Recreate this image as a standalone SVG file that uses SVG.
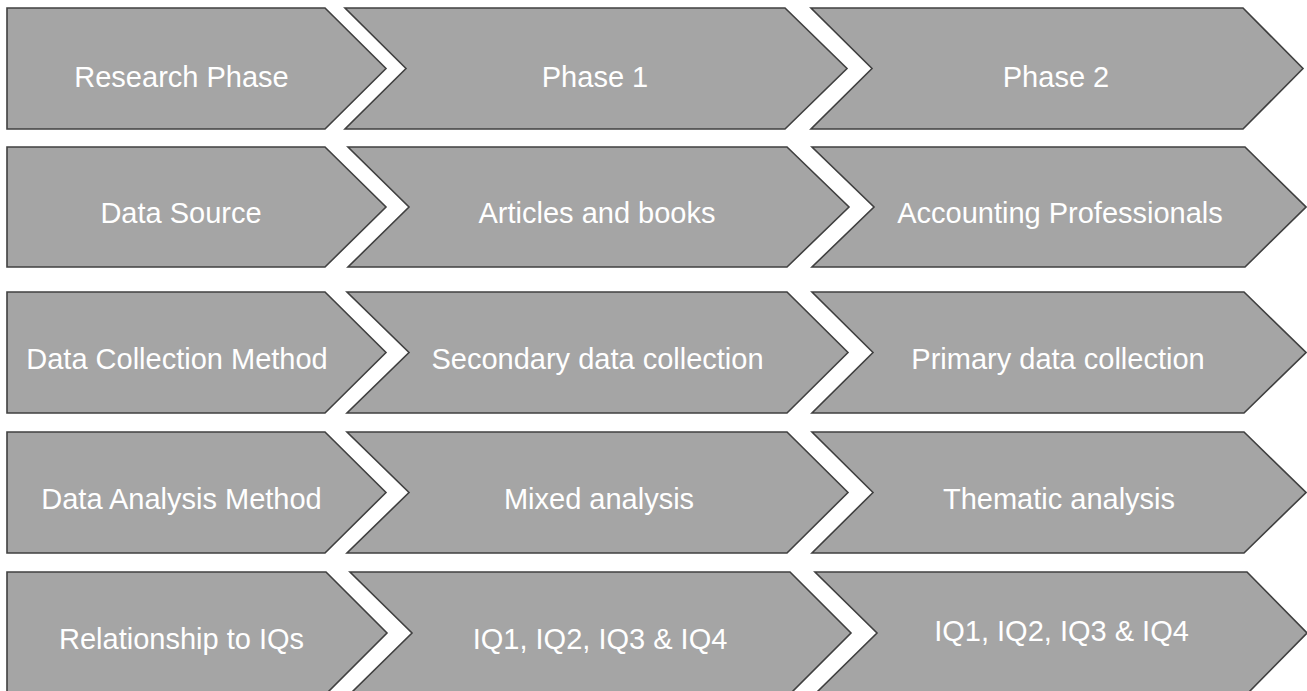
<svg xmlns="http://www.w3.org/2000/svg" width="1307" height="691" viewBox="0 0 1307 691">
<style>
.s{fill:#a5a5a5;stroke:#404040;stroke-width:1.6;stroke-linejoin:miter}
.t{fill:#ffffff;font-family:"Liberation Sans",Arial,sans-serif;font-size:29px;text-anchor:middle}
</style>
<rect x="0" y="0" width="1307" height="691" fill="#ffffff"/>
<g id="r1c1"><polygon class="s" points="7,8 325,8 386,68.5 325,129 7,129"/><text class="t" x="181.5" y="87">Research Phase</text></g>
<g id="r1c2"><polygon class="s" points="345,8 785,8 847,68.5 785,129 345,129 406,68.5"/><text class="t" x="595" y="87">Phase 1</text></g>
<g id="r1c3"><polygon class="s" points="811,8 1243,8 1303,68.5 1243,129 811,129 872,68.5"/><text class="t" x="1056" y="87">Phase 2</text></g>

<g id="r2c1"><polygon class="s" points="7,147 325,147 386,207 325,267 7,267"/><text class="t" x="181" y="223">Data Source</text></g>
<g id="r2c2"><polygon class="s" points="348,147 787,147 849,207 787,267 348,267 409,207"/><text class="t" x="597" y="223">Articles and books</text></g>
<g id="r2c3"><polygon class="s" points="812,147 1245,147 1306,207 1245,267 812,267 874,207"/><text class="t" x="1060" y="223">Accounting Professionals</text></g>

<g id="r3c1"><polygon class="s" points="7,292 325,292 386,352.5 325,413 7,413"/><text class="t" x="177" y="369">Data Collection Method</text></g>
<g id="r3c2"><polygon class="s" points="347,292 787,292 848,352.5 787,413 347,413 409,352.5"/><text class="t" x="597.5" y="369">Secondary data collection</text></g>
<g id="r3c3"><polygon class="s" points="812,292 1244,292 1306,352.5 1244,413 812,413 873,352.5"/><text class="t" x="1058" y="369">Primary data collection</text></g>

<g id="r4c1"><polygon class="s" points="7,432 325,432 386,492.5 325,553 7,553"/><text class="t" x="181.5" y="509">Data Analysis Method</text></g>
<g id="r4c2"><polygon class="s" points="347,432 787,432 848,492.5 787,553 347,553 409,492.5"/><text class="t" x="599" y="509">Mixed analysis</text></g>
<g id="r4c3"><polygon class="s" points="812,432 1244,432 1306,492.5 1244,553 812,553 873,492.5"/><text class="t" x="1059" y="509">Thematic analysis</text></g>

<g id="r5c1"><polygon class="s" points="7,572 326,572 387,633 326,694 7,694"/><text class="t" x="181.5" y="649">Relationship to IQs</text></g>
<g id="r5c2"><polygon class="s" points="350,572 790,572 851,633 790,694 350,694 412,633"/><text class="t" x="600" y="649">IQ1, IQ2, IQ3 &amp; IQ4</text></g>
<g id="r5c3"><polygon class="s" points="815,572 1247,572 1307,633 1247,694 815,694 877,633"/><text class="t" x="1061.5" y="641">IQ1, IQ2, IQ3 &amp; IQ4</text></g>
<g id="connectors"/>
</svg>
